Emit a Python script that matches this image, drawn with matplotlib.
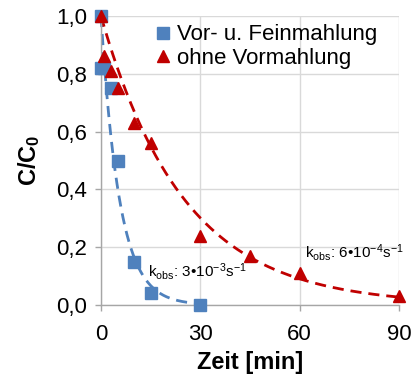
import matplotlib
matplotlib.use("Agg")
import matplotlib.pyplot as plt
import numpy as np

plt.rcParams["font.family"] = ["Liberation Sans", "DejaVu Sans"]
plt.rcParams["mathtext.fontset"] = "custom"
plt.rcParams["mathtext.rm"] = "Liberation Sans"
plt.rcParams["mathtext.it"] = "Liberation Sans:italic"
plt.rcParams["mathtext.bf"] = "Liberation Sans:bold"

# measured data
t_fein = [0, 0, 1, 3, 5, 10, 15, 30]
c_fein = [1.0, 0.82, 0.82, 0.75, 0.50, 0.15, 0.04, 0.0]
t_ohne = [0, 1, 3, 5, 10, 15, 30, 45, 60, 90]
c_ohne = [1.0, 0.86, 0.81, 0.75, 0.63, 0.56, 0.24, 0.17, 0.11, 0.03]

# first order rate constants of the fitted curves, 1/min
k_fein = 0.18
k_ohne = 0.04

x_ticks = [0, 30, 60, 90]
y_ticks = [0.0, 0.2, 0.4, 0.6, 0.8, 1.0]

blue = "#4F81BD"
red = "#C00000"
grey = "#A6A6A6"

fig = plt.figure(figsize=(4.14, 3.79), dpi=100)
ax = fig.add_axes([101 / 414, 1 - 305 / 379, 298 / 414, 289 / 379])

tf = np.linspace(0, 30, 200)
to = np.linspace(0, 90, 300)
ax.plot(tf, np.exp(-k_fein * tf), color=blue, lw=2, dashes=(4, 2.5), zorder=2)
ax.plot(to, np.exp(-k_ohne * to), color=red, lw=2, dashes=(4, 2.5), zorder=2)

ax.plot(t_fein, c_fein, "s", color=blue, ms=8, ls="none",
        label="Vor- u. Feinmahlung", zorder=3)
ax.plot(t_ohne, c_ohne, "^", color=red, ms=8.5, ls="none",
        label="ohne Vormahlung", zorder=4)

ax.set_xlim(0, 90)
ax.set_ylim(0, 1)
ax.set_xticks(x_ticks)
ax.set_yticks(y_ticks)
ax.set_yticklabels([f"{v:.1f}".replace(".", ",") for v in y_ticks])
ax.tick_params(labelsize=16, color=grey, length=4, width=1)
ax.tick_params(axis="x", pad=10)
ax.tick_params(axis="y", pad=6)
ax.grid(True, color="#D9D9D9", lw=1)
ax.set_axisbelow(True)
for s in ["top", "right"]:
    ax.spines[s].set_visible(False)
for s in ["left", "bottom"]:
    ax.spines[s].set_color(grey)
    ax.spines[s].set_linewidth(1)
for ln in ax.lines:
    ln.set_clip_on(False)

ax.set_xlabel("Zeit [min]", fontsize=17, fontweight="bold", labelpad=4)
ax.set_ylabel(r"C/C$_\mathbf{0}$", fontsize=17, fontweight="bold", labelpad=10)

ax.text(14.2, 0.115,
        r"k$_\mathregular{obs}$: 3•10$^\mathregular{-3}$s$^\mathregular{-1}$",
        fontsize=11, ha="left", va="center")
ax.text(61.5, 0.18,
        r"k$_\mathregular{obs}$: 6•10$^\mathregular{-4}$s$^\mathregular{-1}$",
        fontsize=11, ha="left", va="center")

ax.legend(loc="upper left", bbox_to_anchor=(0.12, 1.025), frameon=False,
          fontsize=16, handletextpad=0.1, labelspacing=0.1,
          borderaxespad=0.3, handlelength=1.0, markerscale=1.0)

fig.savefig("out.png", dpi=100)
